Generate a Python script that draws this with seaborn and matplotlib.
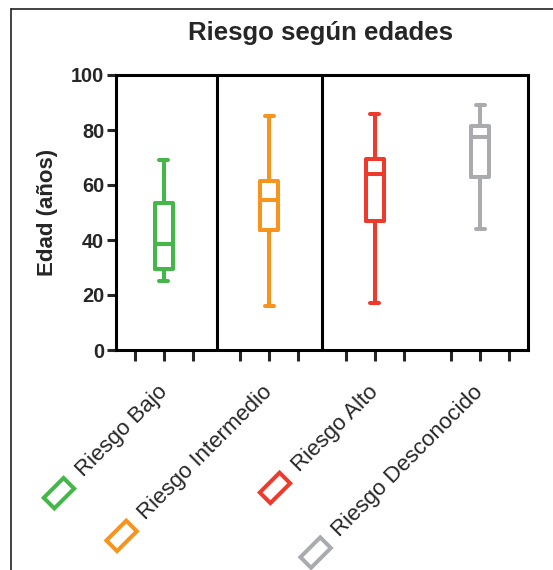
import numpy as np
import pandas as pd
import matplotlib
matplotlib.use('Agg')
import matplotlib.pyplot as plt
import seaborn as sns
from matplotlib.patches import Rectangle
from matplotlib.lines import Line2D
from matplotlib.transforms import IdentityTransform

# datos (resumen de cinco numeros por grupo)
categorias = ['Riesgo Bajo', 'Riesgo Intermedio', 'Riesgo Alto', 'Riesgo Desconocido']
edad_min = [25, 16, 17, 44]
edad_q1 = [29.5, 43.5, 47, 63]
edad_mediana = [38.5, 54.5, 64, 77.5]
edad_q3 = [53.5, 61.5, 69.5, 81.5]
edad_max = [69, 85, 86, 89]
colores = ['#45b649', '#f7941e', '#ee3a2c', '#a9abae']
yticks = [0, 20, 40, 60, 80, 100]

# 5 valores por grupo -> cuartiles exactos, bigotes min-max
filas = []
for cat, a, b, c, d, e in zip(categorias, edad_min, edad_q1, edad_mediana, edad_q3, edad_max):
    for v in (a, b, c, d, e):
        filas.append({'riesgo': cat, 'edad': v})
df = pd.DataFrame(filas)

sns.set_style('ticks')
plt.rcParams['font.family'] = ['Liberation Sans', 'DejaVu Sans']

fig = plt.figure(figsize=(5.53, 5.70), dpi=100)
ax = fig.add_axes([116 / 553, 1 - 350 / 570, 412 / 553, 275 / 570])

sns.boxplot(data=df, x='riesgo', y='edad', hue='riesgo', palette=colores,
            fill=False, width=0.17, whis=(0, 100), linewidth=2.9,
            legend=False, ax=ax)

# ejes
lw = 2.2
for s in ax.spines.values():
    s.set_visible(True)
    s.set_linewidth(lw)
    s.set_color('black')
ax.axvline(0.5, color='black', lw=lw)
ax.axvline(1.5, color='black', lw=lw)
ax.set_xlim(-0.455, len(categorias) - 1 + 0.455)
ax.set_ylim(0, 100)

ax.set_yticks(yticks)
ax.set_yticklabels([str(t) for t in yticks], fontsize=14.3, fontweight='bold')
ax.tick_params(axis='y', length=6.5, width=lw, pad=2, direction='out')

centros = np.arange(len(categorias))
lado = 0.275
posiciones = []
etiquetas = []
for c, cat in zip(centros, categorias):
    posiciones += [c - lado, c, c + lado]
    etiquetas += ['', cat, '']
ax.set_xticks(posiciones)
ax.set_xticklabels(etiquetas, rotation=45, ha='right', va='center',
                   rotation_mode='anchor', fontsize=16)
ax.tick_params(axis='x', length=8, width=lw, pad=20, direction='out')

ax.set_xlabel('')
ax.set_ylabel('Edad (años)', fontsize=16, fontweight='bold')
ax.yaxis.set_label_coords(-0.141, 0.5)

fig.text(321 / 553, 1 - 40 / 570, 'Riesgo según edades', ha='center', va='baseline',
         fontsize=18.5, fontweight='bold')

# marco de la figura (recortado)
fig.add_artist(Line2D([11 / 553, 1], [1 - 9 / 570, 1 - 9 / 570], transform=fig.transFigure,
                      color='#222222', lw=1.2))
fig.add_artist(Line2D([11 / 553, 11 / 553], [0, 1 - 9 / 570], transform=fig.transFigure,
                      color='#222222', lw=1.2))

# simbolos de leyenda delante de cada etiqueta
fig.canvas.draw()
renderer = fig.canvas.get_renderer()
u = np.array([1.0, 1.0]) / np.sqrt(2)
p = np.array([-1.0, 1.0]) / np.sqrt(2)
labels = ax.get_xticklabels()
for i, color in enumerate(colores):
    lab = labels[3 * i + 1]
    anchor = lab.get_transform().transform(lab.get_position())
    w, h, d = renderer.get_text_width_height_descent(lab.get_text(), lab.get_fontproperties(), ismath=False)
    centro = anchor - (w + 28) * u + 0.5 * p
    rw, rh = 28, 15
    rect = Rectangle((centro[0] - rw / 2, centro[1] - rh / 2), rw, rh, angle=45,
                     rotation_point='center', transform=IdentityTransform(),
                     fill=False, edgecolor=color, linewidth=2.9, clip_on=False)
    fig.add_artist(rect)

fig.savefig('out.png', dpi=100)
